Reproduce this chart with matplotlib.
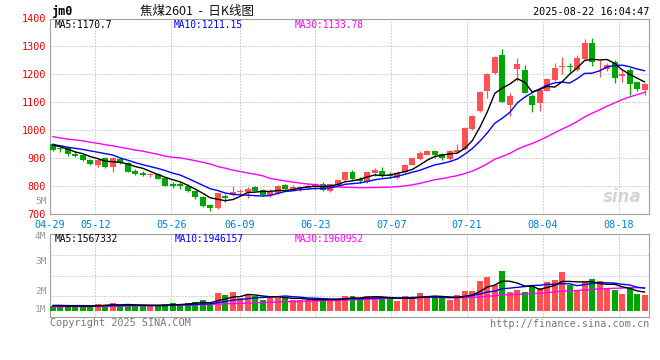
import numpy as np
import pandas as pd
import matplotlib.pyplot as plt

# daily bars of jm2601, 2025-04-29 .. 2025-08-22 (80 trading days)
OPEN = [950, 938, 936, 915, 912, 893, 876, 902, 869, 898,
        883, 855, 848, 838, 844, 829, 807, 807, 801, 784,
        760, 732, 720, 763, 768, 780, 779, 795, 787, 768,
        775, 804, 788, 788, 793, 795, 808, 783, 805, 820,
        851, 825, 813, 846, 855, 840, 830, 849, 876, 898,
        912, 924, 915, 898, 921, 933, 1006, 1069, 1142, 1206,
        1269, 1090, 1219, 1217, 1123, 1099, 1142, 1180, 1226, 1231,
        1215, 1256, 1314, 1214, 1218, 1243, 1194, 1215, 1173, 1144]
HIGH = [953, 940, 938, 924, 914, 896, 895, 905, 904, 900,
        885, 860, 853, 846, 848, 831, 814, 815, 806, 786,
        764, 737, 776, 773, 801, 790, 796, 800, 790, 789,
        803, 809, 805, 800, 811, 810, 815, 808, 823, 851,
        858, 833, 849, 866, 867, 849, 852, 880, 902, 926,
        930, 929, 920, 929, 952, 1012, 1055, 1140, 1204, 1264,
        1290, 1132, 1257, 1235, 1130, 1150, 1186, 1239, 1261, 1239,
        1269, 1325, 1331, 1251, 1242, 1251, 1215, 1221, 1177, 1168]
LOW = [927, 921, 907, 905, 888, 876, 867, 866, 852, 880,
       850, 840, 836, 833, 824, 801, 793, 790, 779, 755,
       725, 710, 718, 743, 763, 768, 757, 782, 766, 760,
       772, 788, 786, 781, 790, 786, 782, 778, 802, 818,
       820, 810, 811, 836, 831, 830, 827, 846, 874, 894,
       910, 900, 893, 893, 917, 930, 999, 1064, 1117, 1203,
       1100, 1051, 1175, 1132, 1066, 1070, 1140, 1176, 1202, 1204,
       1213, 1251, 1230, 1192, 1213, 1168, 1174, 1127, 1140, 1126]
CLOSE = [930, 931, 914, 909, 895, 879, 893, 869, 900, 883,
         852, 845, 838, 845, 827, 802, 801, 801, 782, 760,
         727, 720, 775, 756, 780, 784, 790, 782, 768, 780,
         800, 791, 798, 796, 801, 808, 787, 808, 823, 851,
         824, 817, 849, 858, 839, 836, 848, 876, 900, 918,
         924, 912, 900, 924, 930, 1008, 1051, 1137, 1201, 1262,
         1102, 1123, 1236, 1135, 1090, 1144, 1182, 1221, 1230, 1225,
         1257, 1314, 1245, 1217, 1233, 1188, 1200, 1164, 1148, 1165]
# volume, millions of lots
VOLUME = [1.18, 1.18, 1.14, 1.18, 1.22, 1.18, 1.26, 1.22, 1.30, 1.18,
          1.26, 1.18, 1.18, 1.21, 1.18, 1.26, 1.30, 1.26, 1.30, 1.34,
          1.42, 1.22, 1.69, 1.62, 1.73, 1.51, 1.65, 1.58, 1.42, 1.58,
          1.50, 1.50, 1.42, 1.42, 1.42, 1.42, 1.50, 1.42, 1.42, 1.58,
          1.58, 1.50, 1.58, 1.52, 1.52, 1.45, 1.38, 1.58, 1.52, 1.69,
          1.58, 1.50, 1.50, 1.42, 1.62, 1.77, 1.77, 2.16, 2.32, 2.01,
          2.56, 1.73, 1.81, 1.73, 2.01, 1.89, 2.13, 2.20, 2.52, 2.01,
          1.80, 2.13, 2.24, 2.16, 1.85, 1.81, 1.65, 1.93, 1.65, 1.62]

# moving-average values before enough bars exist in the window
MA5_HEAD = [946, 941, 932, 922]
MA10_HEAD = [949, 944, 939, 935, 931, 926, 921, 916, 911]
MA30_HEAD = [977, 972, 968, 965, 962, 957, 953, 948, 944, 939,
             934, 929, 925, 919, 914, 907, 903, 901, 896, 891,
             885, 879, 870, 864, 857, 852, 847, 842, 837]
VMA5_HEAD = [1.19, 1.19, 1.18, 1.18]
VMA10_HEAD = [1.21, 1.21, 1.20, 1.20, 1.20, 1.19, 1.19, 1.20, 1.20]
VMA30_HEAD = [1.15, 1.15, 1.16, 1.16, 1.16, 1.17, 1.17, 1.17, 1.18, 1.18,
              1.18, 1.19, 1.19, 1.20, 1.20, 1.21, 1.21, 1.22, 1.22, 1.23,
              1.24, 1.25, 1.26, 1.27, 1.28, 1.29, 1.30, 1.31, 1.32]

DATE_IDX = [0, 6, 16, 25, 35, 45, 55, 65, 75]
DATE_LABELS = ['04-29', '05-12', '05-26', '06-09', '06-23', '07-07', '07-21', '08-04', '08-18']
PRICE_TICKS = [700, 800, 900, 1000, 1100, 1200, 1300, 1400]

UP = '#ff5151'
DOWN = '#00a600'
MONO = 'DejaVu Sans Mono'


def moving_avg(values, n, head):
    out = pd.Series(values, dtype=float).rolling(n).mean().to_numpy()
    out[:n - 1] = head
    return out


n = len(CLOSE)
o = np.array(OPEN, float)
h = np.array(HIGH, float)
l = np.array(LOW, float)
c = np.array(CLOSE, float)
vol = np.array(VOLUME) * 1e6
x = np.arange(n) + 0.4
colors = [UP if cc >= oo else DOWN for oo, cc in zip(o, c)]

ma5 = moving_avg(c, 5, MA5_HEAD)
ma10 = moving_avg(c, 10, MA10_HEAD)
ma30 = moving_avg(c, 30, MA30_HEAD)
vma5 = moving_avg(vol, 5, np.array(VMA5_HEAD) * 1e6)
vma10 = moving_avg(vol, 10, np.array(VMA10_HEAD) * 1e6)
vma30 = moving_avg(vol, 30, np.array(VMA30_HEAD) * 1e6)

W, H = 660, 360
fig = plt.figure(figsize=(6.6, 3.6), dpi=100)
fig.patch.set_facecolor('white')


def fx(px):
    return px / W


def fy(py):
    return 1 - py / H


ax = fig.add_axes([fx(50), fy(214), fx(599), 195.5 / H])
axv = fig.add_axes([fx(50), fy(317), fx(599), 82.7 / H])

# grid positions of the dated days (sina spreads them over n-1 steps)
grid_x = [d * n / (n - 1) for d in DATE_IDX]
dot = (0, (1, 2))

# ---- price panel
ax.vlines(x, l, h, colors=colors, linewidth=0.9, zorder=2)
body = np.maximum(np.abs(c - o), 2)
ax.bar(x, body, bottom=np.minimum(o, c), width=0.8, color=colors, zorder=3)
ax.plot(x, ma30, color='#ff00ff', lw=1.0, zorder=4)
ax.plot(x, ma10, color='#0000ff', lw=1.0, zorder=4)
ax.plot(x, ma5, color='black', lw=1.0, zorder=5)

ax.set_xlim(0, n)
ax.set_ylim(700, 1400)
ax.set_yticks(PRICE_TICKS)
ax.set_yticklabels([str(t) for t in PRICE_TICKS], color='#ee0000', family=MONO, fontsize=7.3)
ax.set_xticks(grid_x)
ax.set_xticklabels(DATE_LABELS, color='#0080d8', family=MONO, fontsize=7.3)
ax.tick_params(axis='both', length=0)
ax.tick_params(axis='x', pad=4)
ax.tick_params(axis='y', pad=3)
ax.grid(True, color='#aaaaaa', linestyle=dot, linewidth=0.72, zorder=0)
ax.set_axisbelow(True)
for s in ax.spines.values():
    s.set_color('#a0a0a0')

# ---- volume panel
axv.bar(x, vol - 1e6, bottom=1e6, width=0.8, color=colors, zorder=3)
axv.plot(x, vma30, color='#ff00ff', lw=1.0, zorder=4)
axv.plot(x, vma10, color='#0000ff', lw=1.0, zorder=4)
axv.plot(x, vma5, color='black', lw=1.0, zorder=5)
vlo, vhi = 0.7527e6, 4.0e6
axv.set_xlim(0, n)
axv.set_ylim(vlo, vhi)
axv.set_yticks(np.linspace(vlo, vhi, 5)[1:4])
axv.set_yticklabels([])
axv.set_xticks(grid_x)
axv.set_xticklabels([])
axv.tick_params(axis='both', length=0)
axv.grid(True, color='#aaaaaa', linestyle=dot, linewidth=0.72, zorder=0)
axv.set_axisbelow(True)
for s in axv.spines.values():
    s.set_color('#a0a0a0')

# volume scale labels
for lab, py in [('5M', 201), ('4M', 236.5), ('3M', 261), ('2M', 291), ('1M', 310)]:
    fig.text(fx(46.5), fy(py), lab, ha='right', va='center', color='#999999',
             family=MONO, fontsize=6.8)

# ---- header and legends
fig.text(fx(51), fy(11), 'jm0', ha='left', va='center', family=MONO,
         fontsize=8.5, fontweight='bold', color='black')
fig.text(fx(140), fy(11), '焦煤2601  -  日K线图', ha='left', va='center',
         family=['Noto Sans CJK SC', 'DejaVu Sans'], fontsize=9, color='#111111')
fig.text(fx(649.5), fy(12), '2025-08-22 16:04:47', ha='right', va='center',
         family=MONO, fontsize=7.3, color='black')

for txt, px, col in [('MA5:1170.7', 55, 'black'), ('MA10:1211.15', 174, '#0000ff'),
                     ('MA30:1133.78', 295, '#ff00ff')]:
    fig.text(fx(px), fy(24.5), txt, ha='left', va='center', family=MONO,
             fontsize=6.9, color=col)
for txt, px, col in [('MA5:1567332', 55, 'black'), ('MA10:1946157', 174.5, '#0000ff'),
                     ('MA30:1960952', 294.5, '#ff00ff')]:
    fig.text(fx(px), fy(239), txt, ha='left', va='center', family=MONO,
             fontsize=6.9, color=col)

fig.text(fx(50), fy(323.5), 'Copyright 2025 SINA.COM', ha='left', va='center',
         family=MONO, fontsize=7.3, color='#777777')
fig.text(fx(649.5), fy(324), 'http://finance.sina.com.cn', ha='right', va='center',
         family=MONO, fontsize=7.3, color='#777777')

# faint watermark
fig.text(fx(622), fy(197), 'sina', ha='center', va='center', fontsize=12,
         fontstyle='italic', fontweight='bold', color='#d4d4d4', zorder=1)

fig.savefig('out.png', dpi=100)
